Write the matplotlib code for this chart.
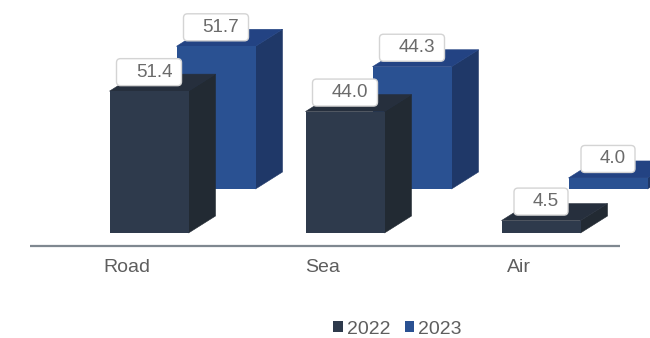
import matplotlib.pyplot as plt
from matplotlib.patches import FancyBboxPatch, Polygon, Patch

plt.rcParams['font.family'] = ['Liberation Sans', 'DejaVu Sans']

categories = ['Road', 'Sea', 'Air']
values_2022 = [51.4, 44.0, 4.5]
values_2023 = [51.7, 44.3, 4.0]

# pixels per x category and per value unit
PX_X = 196.0
PX_Y = 2.76
W, H = 650, 338
BASE_PX = 233
ORIGIN_PX = 149


def px_x(n):
    return n / PX_X


def px_y(n):
    return n / PX_Y


BAR_W = px_x(79)
DEPTH_X, DEPTH_Y = px_x(27), px_y(17)
# the 2023 row sits behind and to the right of the 2022 row
ROW_X, ROW_Y = px_x(67), px_y(44)

fig = plt.figure(figsize=(W / 100, H / 100), dpi=100)
ax = fig.add_axes([0, 0, 1, 1])
ax.set_xlim(px_x(-ORIGIN_PX), px_x(W - ORIGIN_PX))
ax.set_ylim(px_y(BASE_PX - H), px_y(BASE_PX))
ax.axis('off')


def draw_bars(vals, x_off, y_off, front, side, top, z):
    xs = [i + x_off for i in range(len(vals))]
    for x, v in zip(xs, vals):
        l, r = x - BAR_W / 2, x + BAR_W / 2
        lo, hi = y_off, y_off + v
        ax.add_patch(Polygon([(r, lo), (r + DEPTH_X, lo + DEPTH_Y),
                              (r + DEPTH_X, hi + DEPTH_Y), (r, hi)],
                             fc=side, ec=side, lw=0.4, zorder=z))
        ax.add_patch(Polygon([(l, hi), (l + DEPTH_X, hi + DEPTH_Y),
                              (r + DEPTH_X, hi + DEPTH_Y), (r, hi)],
                             fc=top, ec=top, lw=0.4, zorder=z))
    ax.bar(xs, vals, width=BAR_W, bottom=y_off, color=front, zorder=z, linewidth=0)


def draw_labels(vals, x_off, y_off):
    for i, v in enumerate(vals):
        s = f'{v:.1f}'
        bw = px_x(65 if v >= 10 else 54)
        bh = px_y(27)
        x = i + x_off
        y = y_off + v + px_y(5.5)
        ax.add_patch(FancyBboxPatch((x - bw / 2, y), bw, bh,
                                    boxstyle=f'round,pad=0,rounding_size={px_x(4)}',
                                    mutation_aspect=PX_X / PX_Y,
                                    fc='white', ec='#d4d4d4', lw=1, zorder=10))
        ax.text(x + px_x(5), y + bh / 2, s, ha='center', va='center',
                fontsize=13.6, color='#6B6B6B', zorder=11)


draw_bars(values_2023, ROW_X, ROW_Y, '#2A5192', '#1F3868', '#234383', 2)
draw_bars(values_2022, 0, 0, '#2E3A4C', '#222A33', '#262F3D', 3)
draw_labels(values_2023, ROW_X, ROW_Y)
draw_labels(values_2022, 0, 0)

# category axis
ax.plot([px_x(30 - ORIGIN_PX), px_x(620 - ORIGIN_PX)], [px_y(-13.5), px_y(-13.5)],
        color='#7F8890', lw=1.6, zorder=1, solid_capstyle='butt')
for i, name in enumerate(categories):
    ax.text(i - px_x(22), px_y(-35), name, ha='center', va='center',
            fontsize=14, color='#5E5E5E')

handles = [Patch(fc='#2E3A4C', label='2022'), Patch(fc='#2A5192', label='2023')]
ax.legend(handles=handles, loc='center', bbox_to_anchor=(397.5 / W, 1 - 329 / H),
          ncol=2, frameon=False, fontsize=14, labelcolor='#5E5E5E',
          handlelength=0.5, handleheight=0.5, handletextpad=0.2,
          columnspacing=0.72, borderpad=0)

fig.savefig('out.png', dpi=100)
